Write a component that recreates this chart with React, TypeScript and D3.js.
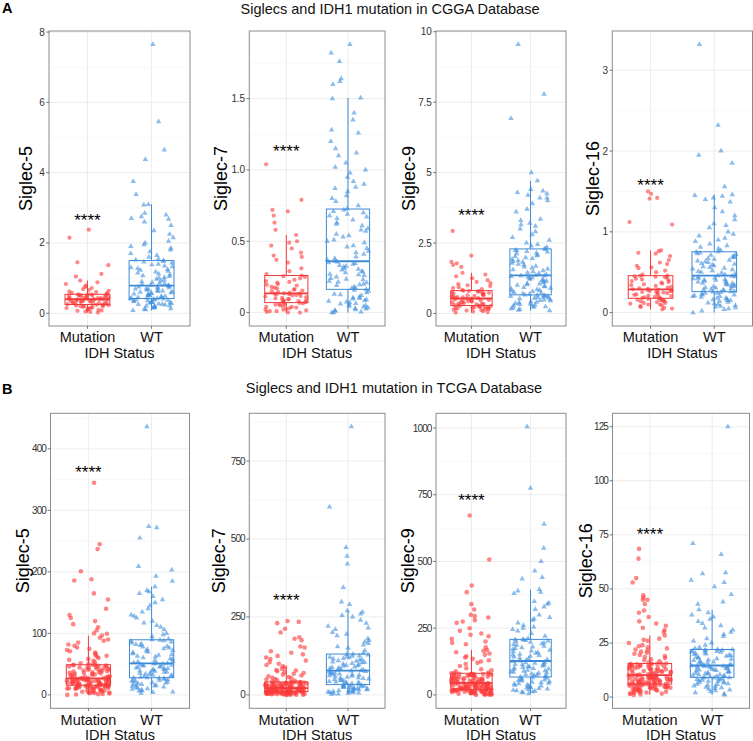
import React from "react";
import * as d3 from "d3";

const GENES = ["Siglec-5", "Siglec-7", "Siglec-9", "Siglec-16"];
const GROUPS = ["Mutation", "WT"];
const X_TITLE = "IDH Status";
const SIG_TEXT = "****";
const TITLES = ["Siglecs and IDH1 mutation in CGGA Database", "Siglecs and IDH1 mutation in TCGA Database"];
const PANEL_TAGS = ["A", "B"];

// ---------- CGGA ----------
const cgga5Mut = [0.02,0.04,0.05,0.07,0.08,0.1,0.11,0.12,0.14,0.15,0.16,0.17,0.18,0.19,0.2,0.21,0.22,0.23,0.24,0.24,0.25,
  0.26,0.27,0.27,0.28,0.29,0.3,0.31,0.31,0.32,0.33,0.34,0.35,0.35,0.36,0.37,0.38,0.38,0.39,0.4,0.4,
  0.41,0.41,0.42,0.43,0.43,0.44,0.45,0.46,0.46,0.47,0.48,0.49,0.5,0.5,0.51,0.52,0.52,0.53,0.54,0.54,
  0.55,0.57,0.58,0.6,0.62,0.64,0.66,0.69,0.72,0.75,0.79,0.83,0.88,0.93,1.05,1.12,1.37,1.45,2.15,2.38];
const cgga5WT = [0.08,0.1,0.12,0.13,0.15,0.16,0.18,0.19,0.2,0.21,0.22,0.24,0.25,0.26,0.27,0.28,0.29,0.3,0.31,0.32,0.33,0.34,0.35,0.36,0.37,0.38,0.39,0.4,0.41,0.41,0.42,
  0.43,0.44,0.45,0.46,0.48,0.49,0.5,0.51,0.52,0.54,0.55,0.56,0.58,0.59,0.6,0.61,0.62,0.64,0.65,0.66,0.68,0.69,0.7,0.71,0.73,0.74,0.75,0.77,0.78,0.79,
  0.8,0.82,0.84,0.86,0.88,0.9,0.92,0.95,0.97,1.0,1.02,1.05,1.07,1.1,1.12,1.15,1.18,1.2,1.23,1.25,1.28,1.3,1.33,1.35,1.38,1.4,1.43,1.46,1.48,1.5,
  1.52,1.55,1.6,1.65,1.7,1.75,1.8,1.85,1.9,1.95,2.0,2.05,2.15,2.25,2.35,2.5,2.6,2.68,2.7,2.75,2.8,2.85,3.08,3.1,3.38,3.75,4.38,4.65,5.45,7.65];
const cgga7Mut = [0,0,0.005,0.01,0.01,0.015,0.02,0.02,0.025,0.03,0.035,0.04,0.04,0.045,0.05,0.055,0.06,0.06,0.065,0.068,0.07,
  0.073,0.076,0.08,0.083,0.086,0.09,0.093,0.096,0.1,0.104,0.108,0.112,0.116,0.12,0.123,0.126,0.129,0.132,0.134,0.135,
  0.14,0.145,0.15,0.155,0.16,0.165,0.17,0.175,0.18,0.19,0.195,0.2,0.21,0.215,0.22,0.23,0.24,0.25,0.255,0.26,
  0.27,0.29,0.31,0.35,0.37,0.39,0.4,0.42,0.45,0.47,0.49,0.5,0.544,0.58,0.63,0.68,0.71,0.72,0.79,1.04];
const cgga7WT = [0,0,0.005,0.01,0.015,0.02,0.025,0.03,0.035,0.04,0.045,0.05,0.055,0.06,0.065,0.07,0.075,0.08,0.085,0.09,0.095,0.1,0.105,0.11,0.12,0.125,0.13,0.14,0.15,0.158,0.163,
  0.17,0.175,0.18,0.19,0.195,0.2,0.21,0.215,0.22,0.23,0.235,0.24,0.25,0.26,0.265,0.27,0.28,0.285,0.29,0.3,0.305,0.31,0.32,0.325,0.33,0.34,0.345,0.35,0.355,0.36,
  0.37,0.38,0.39,0.41,0.42,0.43,0.45,0.46,0.47,0.49,0.5,0.51,0.53,0.54,0.55,0.57,0.58,0.59,0.61,0.62,0.63,0.65,0.66,0.67,0.68,0.69,0.7,0.71,0.72,0.726,
  0.75,0.78,0.8,0.82,0.85,0.87,0.88,0.9,0.92,0.95,0.98,1.0,1.02,1.05,1.1,1.12,1.15,1.2,1.26,1.28,1.35,1.4,1.5,1.505,1.6,1.62,1.64,1.76,1.82,1.88];
const cgga9Mut = [0.03,0.05,0.07,0.08,0.1,0.12,0.13,0.15,0.16,0.17,0.18,0.19,0.2,0.21,0.22,0.23,0.24,0.25,0.26,0.27,0.28,
  0.29,0.3,0.32,0.33,0.34,0.35,0.37,0.38,0.39,0.4,0.42,0.43,0.44,0.46,0.47,0.48,0.5,0.51,0.52,0.53,
  0.54,0.56,0.57,0.58,0.6,0.61,0.62,0.64,0.65,0.67,0.68,0.7,0.71,0.73,0.74,0.76,0.77,0.79,0.8,0.81,
  0.83,0.86,0.9,0.93,0.97,1.0,1.04,1.08,1.12,1.18,1.25,1.32,1.38,1.44,1.65,1.72,1.78,1.83,2.05,2.93];
const cgga9WT = [0.1,0.12,0.15,0.17,0.2,0.22,0.24,0.26,0.28,0.3,0.32,0.34,0.36,0.38,0.4,0.42,0.44,0.46,0.48,0.5,0.52,0.54,0.55,0.57,0.58,0.6,0.61,0.62,0.64,0.65,0.66,
  0.68,0.7,0.73,0.75,0.78,0.8,0.82,0.85,0.87,0.9,0.92,0.95,0.97,1.0,1.02,1.05,1.07,1.1,1.12,1.15,1.17,1.2,1.22,1.25,1.27,1.3,1.31,1.33,1.34,1.35,
  1.38,1.42,1.45,1.48,1.52,1.55,1.58,1.62,1.65,1.68,1.72,1.75,1.78,1.82,1.85,1.88,1.92,1.95,1.98,2.02,2.05,2.08,2.12,2.15,2.18,2.2,2.23,2.25,2.28,2.29,
  2.35,2.4,2.45,2.5,2.6,2.7,2.8,2.9,3.0,3.1,3.15,3.2,3.3,3.35,3.6,3.7,3.9,4.0,4.1,4.1,4.2,4.25,4.3,4.35,4.4,4.71,5.0,6.92,7.78,9.55];
const cgga16Mut = [0.04,0.05,0.06,0.07,0.08,0.09,0.1,0.1,0.11,0.12,0.12,0.13,0.14,0.14,0.15,0.15,0.16,0.16,0.17,0.175,0.177,
  0.18,0.19,0.195,0.2,0.205,0.21,0.22,0.225,0.23,0.24,0.245,0.25,0.255,0.26,0.265,0.27,0.275,0.28,0.285,0.288,
  0.295,0.3,0.31,0.32,0.33,0.34,0.35,0.36,0.37,0.38,0.39,0.4,0.41,0.42,0.43,0.44,0.445,0.45,0.455,0.457,
  0.47,0.5,0.52,0.55,0.56,0.58,0.6,0.62,0.65,0.7,0.73,0.74,0.76,0.77,1.09,1.12,1.41,1.42,1.47,1.5];
const cgga16WT = [0,0.02,0.04,0.05,0.06,0.07,0.08,0.09,0.1,0.11,0.12,0.13,0.14,0.15,0.15,0.16,0.17,0.18,0.18,0.19,0.2,0.2,0.21,0.22,0.22,0.23,0.24,0.24,0.25,0.255,0.259,
  0.265,0.27,0.28,0.285,0.29,0.3,0.305,0.31,0.32,0.325,0.33,0.34,0.345,0.35,0.36,0.365,0.37,0.38,0.385,0.39,0.4,0.405,0.41,0.42,0.425,0.43,0.44,0.445,0.45,0.457,
  0.47,0.48,0.49,0.5,0.51,0.52,0.53,0.54,0.55,0.56,0.57,0.58,0.59,0.6,0.61,0.62,0.63,0.64,0.65,0.66,0.67,0.68,0.69,0.7,0.71,0.72,0.73,0.74,0.75,0.753,
  0.77,0.79,0.81,0.83,0.85,0.88,0.9,0.92,0.95,0.97,1.0,1.05,1.08,1.1,1.15,1.2,1.25,1.3,1.37,1.4,1.42,1.44,1.45,1.46,1.56,1.85,1.95,2.0,2.32,3.32];

// ---------- TCGA ----------
const tcga5Mut = [0,0.6,1.2,1.5,2.3,2.6,3.1,3.8,4.2,4.4,5.1,5.7,6,6.8,7.1,7.4,8.2,8.5,9.3,9.6,10.1,10.4,10.9,11,11.5,11.8,12.1,12.5,12.6,13,13.3,13.4,13.9,14.2,14.3,14.8,15,15.1,15.4,15.6,15.7,
  16,16.2,16.5,16.9,17.1,17.4,17.6,18,18.3,18.5,18.9,19.2,19.4,19.8,20.1,20.3,20.7,21,21.2,21.6,21.9,22.1,22.5,22.8,23,23.4,23.7,23.9,24.3,24.6,24.8,25.1,25.4,25.6,25.9,26.2,26.4,26.7,26.9,27,
  27.4,28.1,28.5,29.3,29.6,30.4,31,31.2,32,32.7,33.1,33.9,34.2,35,35.5,36.1,36.9,37.2,38,38.4,39.3,39.7,40.2,41,41.6,42,42.8,43.1,43.9,44.6,45,45.4,46.3,46.6,47.2,47.9,48.2,48.6,48.9,49,
  50,51.5,53,55.5,57,58.5,60,62,63.5,65,67,69,71,73,75,77,80,82,85,88,90,93,96.5,99.5,100,105,110,115,120,125,130,140,155,165,186,188,201,237,245,345];
const tcga5WT = [3,4,5,6.5,7,8,9.5,10,11,12,13,14,14.5,15.5,16,17,18,18.5,19.5,20,21,22,22.5,23.5,24,25,25.5,26.5,27,27.5,28,
  29,30,31,31.5,32.5,33,34,35,36,37,37.5,38.5,39,40,41,41.5,42.5,43,44,45,45.5,46.5,47,48,48.5,49.5,50,50.5,51,51.3,
  52.5,54,55,56.5,58,59,60.5,62,63,64.5,66,67,68.5,70,71,72.5,74,75,76.5,78,79,80.5,82,83,84.5,86,87,88,89,89.6,
  91,95,98,100,106,110,113,117,120,125,128,130,135,140,145,150,155,160,165,168,170,176,185,193,203,209,255,272,274,436];
const tcga7Mut = [0,0.3,0.6,1,1.2,1.5,1.9,2.2,2.5,2.8,3.1,3.4,3.7,4,4.3,4.6,4.9,5.2,5.5,5.8,6.1,6.3,6.6,6.9,7.1,7.4,7.6,7.9,8.1,8.3,8.6,8.8,9,9.2,9.5,9.7,9.9,10.1,10.3,10.4,10.5,
  10.8,11.1,11.4,11.7,12,12.3,12.6,12.9,13.2,13.5,13.8,14.1,14.4,14.7,15,15.3,15.6,15.9,16.2,16.5,16.8,17.1,17.4,17.7,18,18.3,18.6,18.9,19.2,19.5,19.8,20.1,20.4,20.7,21,21.3,21.5,21.7,21.9,22,
  22.5,23,23.5,24,24.5,25,25.5,26,26.5,27,27.5,28,28.5,29,29.5,30,30.5,31,31.5,32,32.5,33,33.5,34,34.5,35,35.5,36,36.5,37,37.5,38,38.5,39,39.5,40,40.5,41,41.3,41.5,
  43,45,47,49,51,53,55,57,60,62,65,68,70,73,76,78,80,84,88,92,96,100,105,110,115,120,125,130,135,140,152,155,175,180,185,200,212,230,234,237];
const tcga7WT = [2,3.5,4,5.5,6,7.5,8,9.5,10,11.5,12,13,14.5,15,16.5,17,18.5,19,20.5,21,22,23.5,24,25.5,26,27.5,28,29.5,30.5,32,33,
  34.5,36,37.5,39,40.5,42,43.5,45,46.5,48,49.5,51,52.5,54,55.5,57,58.5,60,61.5,63,64.5,66,67.5,69,70.5,72,73.5,75,76.5,77.7,
  79,81,83,85,86.5,88,90,92,94,95.5,97,99,101,103,104.5,106,108,110,112,113.5,115,117,119,121,122.5,124,126,128,130,131,
  134,142,150,155,160,165,170,175,180,190,195,200,210,215,220,230,240,250,255,260,265,270,290,298,345,420,445,473,603,860];
const tcga9Mut = [0,0.5,1,1.5,2,3,3.5,4,5,5.5,6,7,7.5,8,9,9.5,10,11,11.5,12,12.5,13,13.5,14,14.5,15,15.5,16,16.5,17,17.5,18,18.5,19,19.2,19.5,19.8,20.2,20.5,20.8,21,
  21.6,22.2,22.8,23.4,24,24.6,25.2,25.8,26.4,27,27.6,28.2,28.8,29.4,30,30.6,31.2,31.8,32.4,33,33.6,34.2,34.8,35.4,36,36.6,37.2,37.8,38.4,39,39.6,40.2,40.8,41.4,42,42.6,43.2,43.8,44.4,45,
  46,47,48,49,50,51,52,53,54,55,55.5,56.5,57.5,58.5,59.5,60.5,61.5,62.5,63.5,64.5,65.5,66.5,67.5,68.5,69.5,70.5,71.5,72.5,73.5,74.5,75.5,76,76.5,77,78,78.5,79,79.5,80.5,81,
  84,88,92,96,100,108,116,120,125,130,135,140,145,150,155,160,165,168,178,190,195,200,210,220,225,230,240,250,270,275,280,290,295,300,320,340,385,410,507,672];
const tcga9WT = [5,8,10,12,14,16,18,20,22,24,26,28,30,32,34,36,38,40,42,44,46,48,50,52,54,56,58,61,63,65,67,
  69,71,73,75,77,79,81,83,85,87,89,91,93,95,97,99,101,103,105,107,109,111,113,115,117,119,121,123,125,127,
  130,133,136,139,142,145,148,150,153,156,159,162,165,168,171,174,177,180,183,186,189,192,195,198,200,202,204,206,207,208,
  212,220,230,240,245,250,255,260,270,280,285,290,300,320,330,340,345,350,380,385,390,395,435,440,465,500,550,640,775,1005];
const tcga16Mut = [1,1.2,1.4,1.6,1.8,2,2.1,2.3,2.5,2.6,2.8,3,3.1,3.2,3.3,3.5,3.6,3.7,3.8,4,4.1,4.2,4.3,4.4,4.5,4.6,4.7,4.8,4.9,5,5.1,5.2,5.3,5.4,5.5,5.6,5.7,5.8,5.9,5.95,6,
  6.1,6.2,6.3,6.4,6.5,6.6,6.7,6.8,6.9,7,7.1,7.2,7.3,7.4,7.5,7.6,7.7,7.8,7.9,8,8.1,8.2,8.3,8.4,8.5,8.6,8.7,8.8,8.9,9,9.1,9.2,9.3,9.4,9.5,9.6,9.7,9.8,9.95,10.1,
  10.2,10.4,10.5,10.7,10.8,11,11.1,11.3,11.4,11.6,11.7,11.9,12,12.2,12.3,12.5,12.6,12.8,12.9,13.1,13.2,13.4,13.5,13.7,13.8,14,14.1,14.3,14.4,14.6,14.7,14.9,15,15.1,15.2,15.3,15.35,15.4,15.45,15.5,
  16,16.5,17,17.5,18,18.5,19,19.5,20,20.5,21,21.5,22,22.5,23,23.5,24,25,26,26.5,27,28.5,30,31,32,33,34,35,37,39,40,43,45,45,46,47,53,55,64,68.5];
const tcga16WT = [1,1.5,2,2.5,3,3.3,3.6,4,4.3,4.6,5,5.2,5.5,5.8,6,6.2,6.5,6.7,7,7.2,7.4,7.6,7.8,8,8.2,8.4,8.6,8.8,8.9,9,9.1,
  9.3,9.5,9.7,9.9,10.1,10.3,10.5,10.7,10.9,11.1,11.3,11.5,11.7,11.9,12.1,12.3,12.5,12.7,12.9,13.1,13.3,13.5,13.7,13.9,14,14.2,14.3,14.4,14.5,14.6,
  14.9,15.2,15.5,15.8,16,16.3,16.6,16.9,17.2,17.5,17.8,18,18.3,18.6,18.9,19.1,19.4,19.7,19.9,20.2,20.4,20.7,20.9,21.1,21.3,21.5,21.7,21.8,21.9,22,
  22.5,23,24,25,26,27,28,29,30,31,32,33,34,35,36,37,38,39,40.4,43,44,47.5,51,53,54,57,57.5,66,71,125];

const MUT_DATA = [[cgga5Mut, cgga7Mut, cgga9Mut, cgga16Mut], [tcga5Mut, tcga7Mut, tcga9Mut, tcga16Mut]];
const WT_DATA = [[cgga5WT, cgga7WT, cgga9WT, cgga16WT], [tcga5WT, tcga7WT, tcga9WT, tcga16WT]];

const CGGA_TICKS = [[0, 2, 4, 6, 8], [0, 0.5, 1, 1.5], [0, 2.5, 5, 7.5, 10], [0, 1, 2, 3]];
const CGGA_TICK_LABELS = [["0", "2", "4", "6", "8"], ["0", "0.5", "1.0", "1.5"], ["0", "2.5", "5", "7.5", "10"], ["0", "1", "2", "3"]];
const TCGA_TICKS = [[0, 100, 200, 300, 400], [0, 250, 500, 750], [0, 250, 500, 750, 1000], [0, 25, 50, 75, 100, 125]];
const TCGA_TICK_LABELS = [["0", "100", "200", "300", "400"], ["0", "250", "500", "750"], ["0", "250", "500", "750", "1000"], ["0", "25", "50", "75", "100", "125"]];
const CGGA_SIG_Y = [2.75, 1.156, 3.62, 1.63];
const TCGA_SIG_Y = [368, 315, 746, 77];

const TICKS = [CGGA_TICKS, TCGA_TICKS];
const TICK_LABELS = [CGGA_TICK_LABELS, TCGA_TICK_LABELS];
const SIG_Y = [CGGA_SIG_Y, TCGA_SIG_Y];

// ---------- layout ----------
const W = 753, H = 741;
const FONT = "'Liberation Sans', Arial, Helvetica, sans-serif";
const ROWS = [
  { top: 31, bottom: 326, tagY: 13.3, titleX: 390, titleY: 14, xLabY: 342, xTitleY: 358, tickLS: -0.2, mutR: 2.1, mutOp: 0.6 },
  { top: 413.3, bottom: 708.3, tagY: 394, titleX: 394, titleY: 392.5, xLabY: 725, xTitleY: 739.5, tickLS: -0.9, mutR: 2.3, mutOp: 0.62 },
];
const PANEL_X = [
  [[49, 190], [249.3, 385], [436, 566], [612.3, 752.5]],
  [[50.5, 189.5], [249.3, 385], [436, 566], [612.5, 749.5]],
];
const YTITLE_X = [[32, 227, 415.3, 598.5], [28.5, 225.3, 413.5, 592]];

const MUT_POINT = "#FF3B3B";
const MUT_LINE = "#F03A3C";
const WT_POINT = "#3F8FDE";
const WT_LINE = "#3C8BD9";
const GRID = "#EBEBEB";
const GRID_MINOR = "#F4F4F4";
const BORDER = "#8C8C8C";

function boxStats(vals: number[]) {
  const s = vals.slice().sort(d3.ascending);
  const q1 = d3.quantileSorted(s, 0.25) as number;
  const med = d3.quantileSorted(s, 0.5) as number;
  const q3 = d3.quantileSorted(s, 0.75) as number;
  const iqr = q3 - q1;
  const lo = d3.min(s.filter((v) => v >= q1 - 1.5 * iqr)) as number;
  const hi = d3.max(s.filter((v) => v <= q3 + 1.5 * iqr)) as number;
  return { q1, med, q3, lo, hi };
}

// deterministic horizontal jitter (position only, values are untouched)
function jitterFrac(i: number, seed: number) {
  const s = Math.sin((i + 1) * 12.9898 + seed * 78.233) * 43758.5453;
  return s - Math.floor(s) - 0.5;
}

const triPath = d3.symbol().type(d3.symbolTriangle).size(13)() as string;

function Panel({ r, g }: { r: number; g: number }) {
  const row = ROWS[r];
  const [x0, x1] = PANEL_X[r][g];
  const mut = MUT_DATA[r][g];
  const wt = WT_DATA[r][g];
  const all = mut.concat(wt);
  const [mn, mx] = d3.extent(all) as [number, number];
  const pad = (mx - mn) * 0.05;
  const y = d3.scaleLinear().domain([mn - pad, mx + pad]).range([row.bottom, row.top]);
  const x = d3.scalePoint<string>().domain(GROUPS).range([x0, x1]).padding(0.6);
  const unit = x.step();
  const ticks = TICKS[r][g];
  const labels = TICK_LABELS[r][g];
  const minor: number[] = [];
  const stepT = ticks[1] - ticks[0];
  for (let i = -1; i < ticks.length; i++) {
    const m = ticks[0] + (i + 0.5) * stepT;
    if (y(m) > row.top && y(m) < row.bottom) minor.push(m);
  }
  const jitterW = 0.34 * unit;
  const seedBase = r * 10 + g * 3;
  const boxW = 0.7 * unit;
  const groups = [
    { name: GROUPS[0], vals: mut, line: MUT_LINE },
    { name: GROUPS[1], vals: wt, line: WT_LINE },
  ];
  const midPanel = (x0 + x1) / 2;
  const xm = x(GROUPS[0]) as number;
  const xw = x(GROUPS[1]) as number;
  return (
    <g>
      <rect x={x0} y={row.top} width={x1 - x0} height={row.bottom - row.top} fill="#fff" />
      {minor.map((m, i) => (
        <line key={"mi" + i} x1={x0} x2={x1} y1={y(m)} y2={y(m)} stroke={GRID_MINOR} strokeWidth={0.6} />
      ))}
      {ticks.map((t, i) => (
        <line key={"ma" + i} x1={x0} x2={x1} y1={y(t)} y2={y(t)} stroke={GRID} strokeWidth={0.9} />
      ))}
      {GROUPS.map((gname) => (
        <line key={"v" + gname} x1={x(gname)} x2={x(gname)} y1={row.top} y2={row.bottom} stroke={GRID} strokeWidth={0.9} />
      ))}
      {mut.map((v, i) => (
        <circle key={"m" + i} cx={xm + jitterFrac(i, seedBase + 1) * 2 * jitterW} cy={y(v)} r={row.mutR} fill={MUT_POINT} fillOpacity={row.mutOp} />
      ))}
      {wt.map((v, i) => (
        <path key={"w" + i} d={triPath} transform={`translate(${xw + jitterFrac(i, seedBase + 2) * 2 * jitterW},${y(v)})`} fill={WT_POINT} fillOpacity={0.6} />
      ))}
      {groups.map((gr) => {
        const s = boxStats(gr.vals);
        const px = x(gr.name) as number;
        return (
          <g key={"b" + gr.name} stroke={gr.line} fill="none">
            <line x1={px} x2={px} y1={y(s.q3)} y2={y(s.hi)} strokeWidth={1} />
            <line x1={px} x2={px} y1={y(s.q1)} y2={y(s.lo)} strokeWidth={1} />
            <rect x={px - boxW / 2} y={y(s.q3)} width={boxW} height={y(s.q1) - y(s.q3)} strokeWidth={1} />
            <line x1={px - boxW / 2} x2={px + boxW / 2} y1={y(s.med)} y2={y(s.med)} strokeWidth={1.8} />
          </g>
        );
      })}
      <rect x={x0} y={row.top} width={x1 - x0} height={row.bottom - row.top} fill="none" stroke={BORDER} strokeWidth={1} />
      {ticks.map((t, i) => (
        <g key={"t" + i}>
          <line x1={x0 - 2.8} x2={x0} y1={y(t)} y2={y(t)} stroke="#555" strokeWidth={0.8} />
          <text x={x0 - 4.5} y={y(t)} dy="0.35em" textAnchor="end" fontSize={10} fill="#333" letterSpacing={row.tickLS} fontFamily={FONT}>
            {labels[i]}
          </text>
        </g>
      ))}
      {GROUPS.map((gname) => (
        <g key={"xt" + gname}>
          <line x1={x(gname)} x2={x(gname)} y1={row.bottom} y2={row.bottom + 2.8} stroke="#555" strokeWidth={0.8} />
          <text x={x(gname)} y={row.xLabY} textAnchor="middle" fontSize={14.5} fill="#111" fontFamily={FONT}>
            {gname}
          </text>
        </g>
      ))}
      <text x={midPanel} y={row.xTitleY} textAnchor="middle" fontSize={14.5} fill="#111" fontFamily={FONT}>
        {X_TITLE}
      </text>
      <text
        transform={`translate(${YTITLE_X[r][g]},${(row.top + row.bottom) / 2}) rotate(-90)`}
        textAnchor="middle"
        fontSize={18}
        fill="#000"
        fontFamily={FONT}
      >
        {GENES[g]}
      </text>
      <text x={xm} y={y(SIG_Y[r][g]) + 9.8} textAnchor="middle" fontSize={17} fill="#000" fontFamily={FONT}>
        {SIG_TEXT}
      </text>
    </g>
  );
}

export default function App() {
  return (
    <svg width={W} height={H} viewBox={`0 0 ${W} ${H}`} style={{ position: "absolute", left: 0, top: 0, background: "#fff" }}>
      <rect width={W} height={H} fill="#fff" />
      {ROWS.map((row, r) => (
        <g key={"row" + r}>
          <text x={2} y={row.tagY} fontSize={14.5} fontWeight="bold" fontFamily={FONT} fill="#000">
            {PANEL_TAGS[r]}
          </text>
          <text x={row.titleX} y={row.titleY} textAnchor="middle" fontSize={14.5} fontFamily={FONT} fill="#111">
            {TITLES[r]}
          </text>
          {GENES.map((_, g) => (
            <Panel key={"p" + r + g} r={r} g={g} />
          ))}
        </g>
      ))}
    </svg>
  );
}
